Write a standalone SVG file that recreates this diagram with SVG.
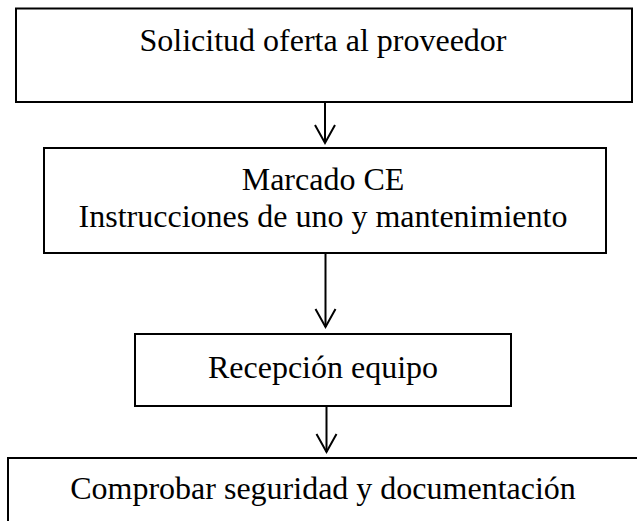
<svg xmlns="http://www.w3.org/2000/svg" width="637" height="521" viewBox="0 0 637 521">
<style>
.box{fill:#fff;stroke:#000;stroke-width:2}
.t{font-family:"Liberation Serif","Times New Roman",serif;font-size:32px;fill:#000;text-anchor:middle}
.c{stroke:#000;stroke-width:2;fill:none}
</style>
<defs>
<marker id="v" markerWidth="24" markerHeight="24" refX="19" refY="11" orient="auto" markerUnits="userSpaceOnUse" viewBox="0 0 24 24">
<path d="M1,1 L19,11 L1,21" fill="none" stroke="#000" stroke-width="2"/>
</marker>
</defs>
<rect width="637" height="521" fill="#fff"/>
<g id="n1"><rect class="box" x="16" y="8.5" width="616" height="93.5"/><text class="t" x="323" y="51">Solicitud oferta al proveedor</text></g>
<g id="n2"><rect class="box" x="44" y="148" width="562" height="105"/><text class="t" x="323" y="190">Marcado CE</text><text class="t" x="323" y="227">Instrucciones de uno y mantenimiento</text></g>
<g id="n3"><rect class="box" x="135" y="334" width="376" height="72"/><text class="t" x="323" y="378">Recepción equipo</text></g>
<g id="n4"><rect class="box" x="8" y="458" width="640" height="80"/><text class="t" x="323" y="499">Comprobar seguridad y documentación</text></g>
<g id="connectors">
<line class="c" x1="325" y1="102" x2="325" y2="143" marker-end="url(#v)"/>
<line class="c" x1="325.5" y1="253" x2="325.5" y2="327" marker-end="url(#v)"/>
<line class="c" x1="326.5" y1="406" x2="326.5" y2="452" marker-end="url(#v)"/>
</g>
</svg>
